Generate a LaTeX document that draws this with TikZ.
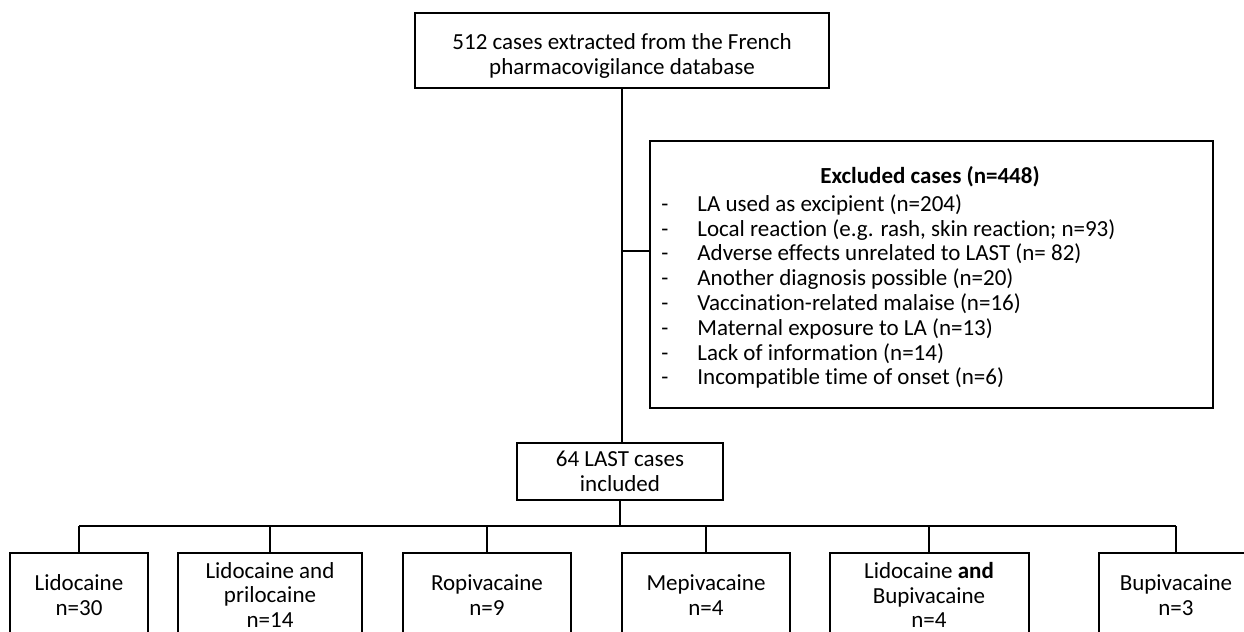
\documentclass[tikz,border=0pt]{standalone}
\usepackage{fontspec}
\setmainfont[Ligatures=NoCommon]{Carlito}
\newcommand{\bl}{\makebox[18pt][l]{-}}

\begin{document}
\begin{tikzpicture}[x=0.5pt,y=-0.5pt,
   box/.style={draw=black,line width=1pt,align=center,inner sep=0pt},
   kid/.style={box,anchor=north,minimum height=42pt},
   link/.style={draw=black,line width=0.9pt}]
   \useasboundingbox (0,0) rectangle (1244,632);
   \clip (0,0) rectangle (1244,632);
   \fontsize{11.5}{12.4}\selectfont
   \node[box,minimum width=207pt,minimum height=37.5pt] (src) at (622,50.5)
     {\rule{0pt}{13.5pt}512 cases extracted from the French\\pharmacovigilance database};
   \node[box,minimum width=281.5pt,minimum height=133.5pt] (excl) at (931.5,274.5) {};
   \node[font=\bfseries] (exhead) at (930,177) {Excluded cases (n=448)};
   \node[anchor=north west,align=left,inner sep=0pt] (exlist) at (661,194)
     {\bl LA used as excipient (n=204)\\
      \bl Local reaction (e.g. rash, skin reaction; n=93)\\
      \bl Adverse effects unrelated to LAST (n= 82)\\
      \bl Another diagnosis possible (n=20)\\
      \bl Vaccination-related malaise (n=16)\\
      \bl Maternal exposure to LA (n=13)\\
      \bl Lack of information (n=14)\\
      \bl Incompatible time of onset (n=6)};
   \node[box,minimum width=103pt,minimum height=28.5pt] (inc) at (620,471.5)
     {64 LAST cases\\included};
   \node[kid,minimum width=69pt] (lido) at (79,552) {Lidocaine\\n=30};
   \node[kid,minimum width=92pt] (lipri) at (270,552) {Lidocaine and\\prilocaine\\n=14};
   \node[kid,minimum width=84pt] (ropi) at (487,552) {Ropivacaine\\n=9};
   \node[kid,minimum width=84pt] (mepi) at (706,552) {Mepivacaine\\n=4};
   \node[kid,minimum width=99.5pt] (libup) at (929,552) {Lidocaine \textbf{and}\\Bupivacaine\\n=4};
   \node[kid,minimum width=77pt] (bupi) at (1176,552) {Bupivacaine\\n=3};
   \coordinate (side) at (622,251);
   \coordinate (bus) at (620,526);
   \draw[link] (src.south) -- (src.south |- inc.north);
   \draw[link] (side) -- (side -| excl.west);
   \draw[link] (inc.south) -- (bus);
   \draw[link] (lido.north |- bus) -- (bupi.north |- bus);
   \foreach \k in {lido,lipri,ropi,mepi,libup,bupi}
     \draw[link] (\k.north |- bus) -- (\k.north);
\end{tikzpicture}
\end{document}
